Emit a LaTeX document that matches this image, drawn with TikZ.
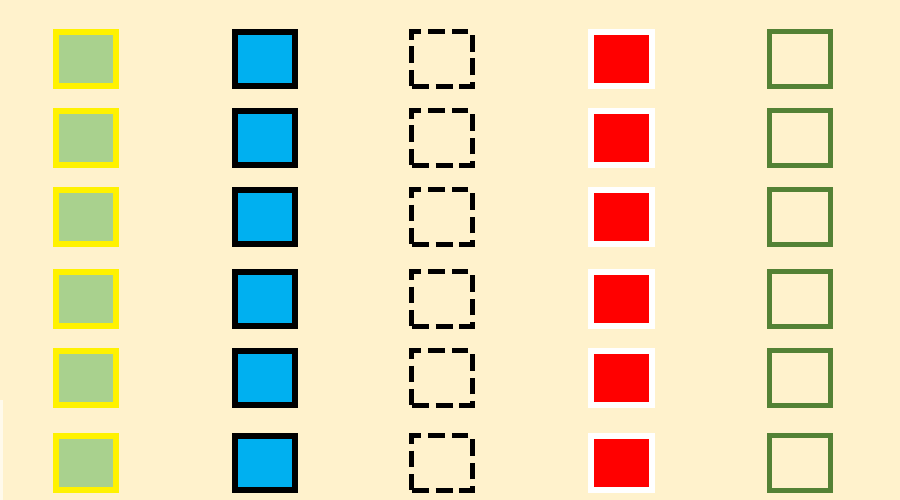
\documentclass[tikz,border=0pt]{standalone}
\usepackage{tikz}
\definecolor{paper}{HTML}{FFF2CC}
\definecolor{leaf}{HTML}{A9D18E}
\definecolor{sky}{HTML}{00B0F0}
\definecolor{moss}{HTML}{548235}
\tikzset{
  cell/.style = {minimum width = 1.22cm, minimum height = 1.1cm, inner sep = 0, outer sep = 0, line width = 0.12cm},
  leafcell/.style = {cell, draw = yellow, fill = leaf},
  skycell/.style = {cell, draw = black, fill = sky},
  dashcell/.style = {cell, draw = black, line width = 0.1cm, dash pattern = on 0.34cm off 0.14cm},
  redcell/.style = {cell, draw = white, fill = red},
  mosscell/.style = {cell, draw = moss, line width = 0.11cm}
}

\begin{document}
\begin{tikzpicture} [x = 0.02cm, y = -0.02cm]
\fill[paper] (0, 0) rectangle (900, 500);
\fill[white!60!paper] (0, 400) rectangle (3, 500);
\foreach \r/\y in {1/59, 2/138, 3/217, 4/299, 5/378, 6/463} {
\node[leafcell] (leaf\r) at (86, \y) {};
\node[skycell] (sky\r) at (265, \y) {};
\node[dashcell] (dash\r) at (442, \y) {};
\node[redcell] (red\r) at (621.5, \y) {};
\node[mosscell] (moss\r) at (800, \y) {};
}
\end{tikzpicture}
\end{document}
